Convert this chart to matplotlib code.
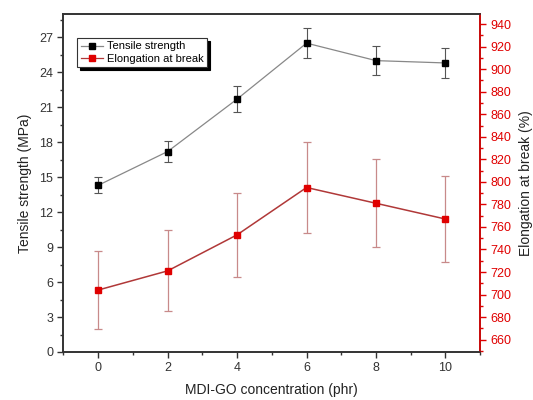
import matplotlib
matplotlib.use('Agg')
import matplotlib.pyplot as plt
from matplotlib.ticker import MultipleLocator
from matplotlib.lines import Line2D

plt.rcParams['font.family'] = ['Liberation Sans', 'DejaVu Sans']

# data
conc = [0, 2, 4, 6, 8, 10]
tensile = [14.3, 17.2, 21.7, 26.5, 25.0, 24.8]
tensile_err = [0.7, 0.9, 1.1, 1.3, 1.25, 1.25]
elong = [704, 721, 753, 795, 781, 767]
elong_err = [35, 36, 37.5, 40, 39, 38.5]

red = '#e00000'

fig = plt.figure(figsize=(5.33, 4), dpi=100)
ax = fig.add_axes([0.119, 0.12, 0.782, 0.845])
ax2 = ax.twinx()

ax.errorbar(conc, tensile, yerr=tensile_err, color='#888888', lw=0.9,
            ecolor='#555555', elinewidth=0.8, capsize=3, capthick=0.8,
            marker='s', ms=5, mfc='black', mec='black', zorder=3)
ax2.errorbar(conc, elong, yerr=elong_err, color='#b03838', lw=1.1,
             ecolor='#c88a8a', elinewidth=0.9, capsize=3, capthick=0.9,
             marker='s', ms=5, mfc=red, mec=red, zorder=3)

ax.set_xlim(-1, 11)
ax.set_ylim(0, 29)
ax2.set_ylim(649, 949)

ax.xaxis.set_major_locator(MultipleLocator(2))
ax.xaxis.set_minor_locator(MultipleLocator(1))
ax.yaxis.set_major_locator(MultipleLocator(3))
ax.yaxis.set_minor_locator(MultipleLocator(1.5))
ax2.yaxis.set_major_locator(MultipleLocator(20))
ax2.yaxis.set_minor_locator(MultipleLocator(10))
ax2.set_yticks(range(660, 941, 20))

for a in (ax, ax2):
    for s in a.spines.values():
        s.set_linewidth(1.2)
        s.set_color('#333333')
ax2.spines['right'].set_color(red)

ax.tick_params(axis='both', which='major', direction='out', length=4, width=1,
               labelsize=9, colors='#333333')
ax.tick_params(axis='both', which='minor', direction='out', length=2.5, width=1,
               colors='#333333')
ax2.tick_params(axis='y', which='major', direction='out', length=4, width=1,
                labelsize=9, colors=red)
ax2.tick_params(axis='y', which='minor', direction='out', length=2.5, width=1,
                colors=red)

ax.set_xlabel('MDI-GO concentration (phr)', fontsize=10, color='#222222', labelpad=6)
ax.set_ylabel('Tensile strength (MPa)', fontsize=10, color='#222222', labelpad=5)
ax2.set_ylabel('Elongation at break (%)', fontsize=10, color='#222222', labelpad=5)

handles = [
    Line2D([], [], color='#888888', marker='s', ms=4.5, mfc='black', mec='black', lw=0.9),
    Line2D([], [], color='#b03838', marker='s', ms=4.5, mfc=red, mec=red, lw=0.9),
]
leg = ax.legend(handles, ['Tensile strength', 'Elongation at break'],
                loc='upper left', bbox_to_anchor=(0.02, 0.945), fontsize=8,
                fancybox=False, shadow={'color': 'black', 'alpha': 1},
                framealpha=1, edgecolor='#333333',
                handlelength=2.0, handletextpad=0.4, borderpad=0.3,
                labelspacing=0.2)
leg.get_frame().set_linewidth(0.8)

fig.savefig('out.png', dpi=100)
